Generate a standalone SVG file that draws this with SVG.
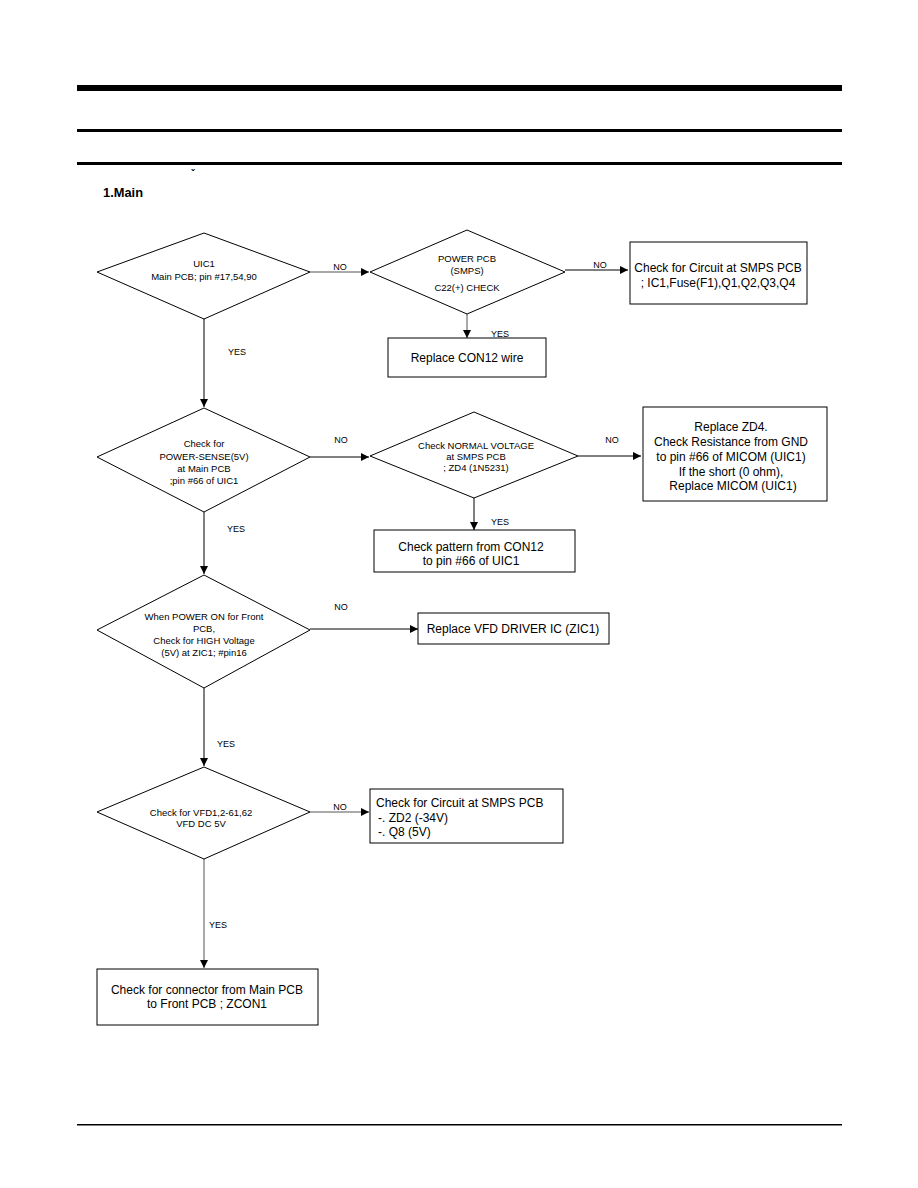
<svg xmlns="http://www.w3.org/2000/svg" width="918" height="1188" viewBox="0 0 918 1188">
<defs>
<marker id="ah" viewBox="0 0 8 8" refX="8" refY="4" markerWidth="8" markerHeight="8" markerUnits="userSpaceOnUse" orient="auto">
<path d="M0,0 L8,4 L0,8 z" fill="#000"/>
</marker>
</defs>
<style>
.shape{fill:#fff;stroke:#000;stroke-width:1}
.dt{font-family:"Liberation Sans",Arial,sans-serif;font-size:9.5px;fill:#000;text-anchor:middle}
.bt{font-family:"Liberation Sans",Arial,sans-serif;font-size:12px;fill:#000;text-anchor:middle}
.bl{font-family:"Liberation Sans",Arial,sans-serif;font-size:12px;fill:#000;text-anchor:start}
.lb{font-family:"Liberation Sans",Arial,sans-serif;font-size:9px;fill:#000;text-anchor:middle}
.c{fill:none;stroke:#000;stroke-width:1;marker-end:url(#ah)}
.g{stroke:#555}
</style>
<rect width="918" height="1188" fill="#fff"/>
<g id="header">
<rect x="77" y="85" width="765" height="6" fill="#000"/>
<rect x="77" y="129" width="765" height="3" fill="#000"/>
<rect x="77" y="162" width="765" height="3" fill="#000"/>
<text x="193" y="177" font-family="Liberation Sans,Arial,sans-serif" font-size="10px" font-weight="bold" text-anchor="middle">ˇ</text>
<text x="103" y="197" font-family="Liberation Sans,Arial,sans-serif" font-size="13px" font-weight="bold" textLength="40" lengthAdjust="spacingAndGlyphs">1.Main</text>
<rect x="77" y="1124" width="765" height="1.5" fill="#000"/>
</g>
<g id="connectors">
<path class="c g" d="M310,272 H369"/>
<text class="lb" x="340" y="270">NO</text>
<path class="c" d="M565,270 H628"/>
<text class="lb" x="600" y="268">NO</text>
<path class="c g" d="M467,314 V338"/>
<text class="lb" x="500" y="337">YES</text>
<path class="c" d="M204,319 V407"/>
<text class="lb" x="237" y="355">YES</text>
<path class="c" d="M310,457 H369"/>
<text class="lb" x="341" y="443">NO</text>
<path class="c" d="M578,456 H641"/>
<text class="lb" x="612" y="443">NO</text>
<path class="c" d="M474,498 V530"/>
<text class="lb" x="500" y="525">YES</text>
<path class="c" d="M204,512 V574"/>
<text class="lb" x="236" y="532">YES</text>
<path class="c" d="M310,629 H418"/>
<text class="lb" x="341" y="610">NO</text>
<path class="c" d="M204,688 V766"/>
<text class="lb" x="226" y="747">YES</text>
<path class="c g" d="M310,812 H369"/>
<text class="lb" x="340" y="810">NO</text>
<path class="c g" d="M204,859 V968"/>
<text class="lb" x="218" y="928">YES</text>
</g>
<g id="d1">
<polygon class="shape" points="204,233 310,272 204,319 97,272"/>
<text class="dt" x="204" y="267">UIC1</text>
<text class="dt" x="204" y="280">Main PCB; pin #17,54,90</text>
</g>
<g id="d2">
<polygon class="shape" points="467,230 565,272 467,314 370,272"/>
<text class="dt" x="467" y="262">POWER PCB</text>
<text class="dt" x="467" y="274">(SMPS)</text>
<text class="dt" x="467" y="291">C22(+) CHECK</text>
</g>
<g id="b3">
<rect class="shape" x="630" y="242" width="177" height="62"/>
<text class="bt" x="718" y="272">Check for Circuit at SMPS PCB</text>
<text class="bt" x="718" y="287">; IC1,Fuse(F1),Q1,Q2,Q3,Q4</text>
</g>
<g id="b4">
<rect class="shape" x="388" y="338" width="158" height="39"/>
<text class="bt" x="467" y="362">Replace CON12 wire</text>
</g>
<g id="d5">
<polygon class="shape" points="204,408 310,457 204,512 97,457"/>
<text class="dt" x="204" y="447">Check for</text>
<text class="dt" x="204" y="460">POWER-SENSE(5V)</text>
<text class="dt" x="204" y="472">at Main PCB</text>
<text class="dt" x="204" y="484">;pin #66 of UIC1</text>
</g>
<g id="d6">
<polygon class="shape" points="474,412 578,456 474,498 370,456"/>
<text class="dt" x="476" y="449">Check NORMAL VOLTAGE</text>
<text class="dt" x="476" y="460">at SMPS PCB</text>
<text class="dt" x="476" y="471">; ZD4 (1N5231)</text>
</g>
<g id="b7">
<rect class="shape" x="643" y="407" width="184" height="94"/>
<text class="bt" x="731" y="431">Replace ZD4.</text>
<text class="bt" x="731" y="446">Check Resistance from GND</text>
<text class="bt" x="731" y="461">to pin #66 of MICOM (UIC1)</text>
<text class="bt" x="731" y="476">If the short (0 ohm),</text>
<text class="bt" x="733" y="490">Replace MICOM (UIC1)</text>
</g>
<g id="b8">
<rect class="shape" x="374" y="530" width="201" height="42"/>
<text class="bt" x="471" y="551">Check pattern from CON12</text>
<text class="bt" x="471" y="565">to pin #66 of UIC1</text>
</g>
<g id="d9">
<polygon class="shape" points="204,575 310,630 204,688 97,630"/>
<text class="dt" x="204" y="620">When POWER ON for Front</text>
<text class="dt" x="204" y="632">PCB,</text>
<text class="dt" x="204" y="644">Check for HIGH Voltage</text>
<text class="dt" x="204" y="656">(5V) at ZIC1; #pin16</text>
</g>
<g id="b10">
<rect class="shape" x="418" y="613" width="191" height="31"/>
<text class="bt" x="513" y="633">Replace VFD DRIVER IC (ZIC1)</text>
</g>
<g id="d11">
<polygon class="shape" points="204,767 310,812 204,859 97,812"/>
<text class="dt" x="201" y="816">Check for VFD1,2-61,62</text>
<text class="dt" x="201" y="827">VFD DC 5V</text>
</g>
<g id="b12">
<rect class="shape" x="370" y="789" width="193" height="54"/>
<text class="bl" x="376" y="807">Check for Circuit at SMPS PCB</text>
<text class="bl" x="378" y="822">-. ZD2 (-34V)</text>
<text class="bl" x="378" y="836">-. Q8 (5V)</text>
</g>
<g id="b13">
<rect class="shape" x="97" y="969" width="221" height="56"/>
<text class="bt" x="207" y="994">Check for connector from Main PCB</text>
<text class="bt" x="207" y="1008">to Front PCB ; ZCON1</text>
</g>
</svg>
